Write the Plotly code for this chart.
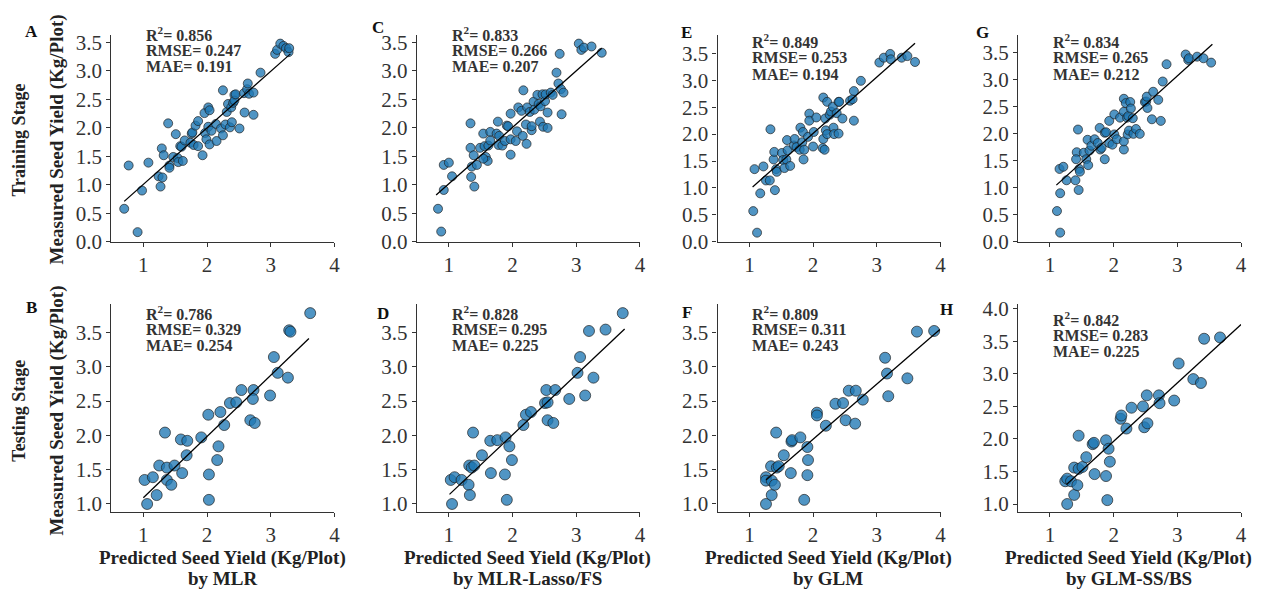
import plotly.graph_objects as go

# ---------------- data ----------------
# Training stage (measured vs predicted)
mlr_train_pred = [0.70,0.91,0.77,0.98,1.08,1.27,1.24,1.30,1.29,1.32,1.39,1.41,1.41,1.47,1.51,1.54,1.55,1.58,1.60,1.62,1.65,1.74,1.76,1.77,1.79,1.82,1.86,1.86,1.93,1.96,1.97,1.99,2.02,2.02,2.04,2.04,2.07,2.14,2.15,2.22,2.25,2.25,2.29,2.31,2.33,2.36,2.39,2.38,2.41,2.43,2.43,2.45,2.51,2.58,2.59,2.63,2.64,2.66,2.73,2.73,2.84,3.07,3.10,3.15,3.20,3.24,3.28,3.29]
mlr_train_meas = [0.58,0.17,1.34,0.90,1.39,0.97,1.15,1.13,1.64,1.52,2.08,1.34,1.30,1.49,1.89,1.47,1.40,1.68,1.67,1.42,1.78,1.74,1.90,1.92,1.70,2.04,1.68,2.12,1.52,2.26,1.91,1.80,2.02,2.36,2.31,1.71,1.95,2.07,1.77,1.99,2.66,1.87,2.06,2.28,2.42,2.01,2.10,2.36,2.44,2.58,2.48,2.59,1.99,2.61,2.27,2.68,2.78,2.60,2.62,2.23,2.97,3.30,3.37,3.48,3.44,3.40,3.33,3.40]

lasso_train_pred = [0.83,0.88,0.92,1.00,0.92,1.05,1.34,1.34,1.35,1.36,1.39,1.40,1.44,1.49,1.54,1.56,1.58,1.61,1.62,1.65,1.65,1.54,1.77,1.75,1.78,1.79,1.84,1.88,1.91,1.93,1.97,1.97,1.97,2.05,2.07,2.09,2.14,2.16,2.17,2.21,2.22,2.23,2.27,2.30,2.30,2.33,2.34,2.39,2.41,2.43,2.44,2.47,2.48,2.51,2.52,2.55,2.55,2.60,2.63,2.69,2.72,2.76,2.74,2.80,2.77,3.04,3.08,3.12,3.24,3.40]
lasso_train_meas = [0.58,0.18,1.35,1.39,0.91,1.15,2.08,1.65,1.14,1.32,1.52,0.97,1.35,1.65,1.90,1.68,1.49,1.42,1.69,1.93,1.78,1.46,2.11,1.90,1.70,1.86,1.69,1.77,2.04,2.03,2.25,1.80,1.53,1.77,1.94,2.36,2.30,1.86,2.66,2.06,1.72,2.36,2.28,1.96,2.03,2.46,2.32,2.58,2.42,2.11,2.38,2.59,2.02,2.47,2.59,2.27,2.00,2.62,2.58,2.97,2.78,2.68,3.30,2.62,2.24,3.48,3.37,3.41,3.43,3.32]

glm_train_pred = [1.06,1.12,1.08,1.17,1.22,1.26,1.32,1.33,1.38,1.39,1.40,1.42,1.43,1.51,1.53,1.55,1.58,1.59,1.60,1.64,1.70,1.71,1.74,1.80,1.79,1.83,1.84,1.85,1.86,1.92,1.94,1.94,2.00,2.01,2.05,2.15,2.16,2.16,2.18,2.19,2.20,2.22,2.22,2.26,2.28,2.31,2.32,2.33,2.40,2.40,2.41,2.37,2.46,2.58,2.62,2.64,2.64,2.75,3.04,3.11,3.21,3.22,3.39,3.48,3.60]
glm_train_meas = [0.57,0.17,1.35,0.90,1.40,1.14,1.14,2.09,1.53,1.67,0.96,1.35,1.30,1.65,1.52,1.37,1.53,1.89,1.70,1.41,1.79,1.91,1.76,2.12,1.71,1.85,2.04,1.53,1.71,1.95,2.38,2.25,1.77,2.04,2.31,1.74,1.91,2.68,1.71,2.29,2.07,2.00,2.60,2.36,2.42,2.51,2.12,2.00,2.01,2.60,2.60,2.39,2.29,2.62,2.65,2.80,2.25,2.99,3.33,3.42,3.49,3.39,3.42,3.45,3.34]

glmss_train_pred = [1.11,1.16,1.15,1.16,1.21,1.26,1.40,1.44,1.42,1.41,1.45,1.46,1.47,1.53,1.57,1.59,1.60,1.62,1.65,1.70,1.75,1.78,1.79,1.81,1.86,1.86,1.88,1.93,1.93,1.98,2.01,2.01,2.05,2.10,2.16,2.16,2.16,2.16,2.19,2.21,2.22,2.23,2.24,2.26,2.27,2.30,2.31,2.35,2.41,2.49,2.51,2.52,2.53,2.60,2.62,2.70,2.74,2.77,2.83,3.13,3.17,3.18,3.31,3.41,3.53]
glmss_train_meas = [0.57,0.17,1.35,0.90,1.39,1.14,1.14,2.08,1.66,1.53,0.96,1.35,1.30,1.65,1.53,1.89,1.42,1.69,1.78,1.90,1.83,2.11,1.71,1.74,2.02,1.53,2.03,2.24,1.83,1.80,2.36,1.99,1.90,2.30,2.65,2.41,1.71,1.86,2.57,2.30,1.99,2.33,2.06,2.59,2.47,2.29,2.00,2.09,2.00,2.59,2.60,2.69,2.48,2.27,2.78,2.63,2.24,2.97,3.29,3.47,3.37,3.40,3.43,3.40,3.32]

# Testing stage
mlr_test_pred = [1.02,1.06,1.15,1.21,1.25,1.34,1.37,1.37,1.44,1.49,1.59,1.61,1.69,1.68,1.91,2.02,2.03,2.03,2.16,2.18,2.21,2.27,2.36,2.46,2.54,2.68,2.73,2.72,2.75,2.99,3.05,3.11,3.27,3.29,3.31,3.62]
mlr_test_meas = [1.35,1.00,1.39,1.13,1.56,2.04,1.53,1.35,1.28,1.56,1.94,1.45,1.92,1.71,1.97,2.30,1.43,1.06,1.64,1.84,2.34,2.15,2.47,2.48,2.66,2.22,2.66,2.53,2.18,2.58,3.14,2.91,2.84,3.53,3.51,3.78]

lasso_test_pred = [1.03,1.05,1.09,1.20,1.32,1.31,1.33,1.36,1.40,1.38,1.52,1.66,1.65,1.76,1.88,1.89,1.91,1.95,1.99,2.17,2.21,2.29,2.51,2.55,2.53,2.55,2.67,2.64,2.89,3.02,3.06,3.14,3.20,3.27,3.46,3.73]
lasso_test_meas = [1.35,1.00,1.39,1.35,1.56,1.28,1.13,1.53,1.56,2.04,1.71,1.45,1.92,1.93,1.43,1.97,1.06,1.84,1.64,2.15,2.30,2.34,2.47,2.48,2.66,2.22,2.66,2.18,2.53,2.91,3.14,2.58,3.52,2.84,3.54,3.78]

glm_test_pred = [1.26,1.26,1.26,1.34,1.35,1.35,1.40,1.42,1.43,1.46,1.54,1.65,1.66,1.67,1.80,1.86,1.91,1.92,1.91,2.06,2.06,2.20,2.35,2.47,2.51,2.56,2.67,2.66,2.78,3.13,3.16,3.18,3.48,3.63,3.90]
glm_test_meas = [1.39,1.34,1.00,1.55,1.34,1.13,1.28,2.04,1.53,1.55,1.71,1.45,1.91,1.93,1.97,1.06,1.83,1.64,1.42,2.33,2.29,2.14,2.46,2.47,2.22,2.65,2.65,2.17,2.52,3.13,2.90,2.57,2.83,3.51,3.52]

glmss_test_pred = [1.24,1.27,1.27,1.38,1.38,1.33,1.43,1.45,1.45,1.51,1.57,1.67,1.69,1.70,1.88,1.88,1.90,1.92,1.94,2.11,2.12,2.20,2.28,2.46,2.48,2.52,2.53,2.71,2.72,2.95,3.02,3.25,3.37,3.42,3.67]
glmss_test_meas = [1.35,1.39,1.00,1.56,1.14,1.35,1.29,2.05,1.54,1.57,1.72,1.92,1.94,1.46,1.98,1.43,1.06,1.85,1.65,2.31,2.36,2.16,2.48,2.50,2.18,2.67,2.24,2.67,2.55,2.59,3.16,2.92,2.86,3.54,3.56]

# Fitted regression line end points (as drawn in the reference)
fit_A_x = [0.70, 3.31]; fit_A_y = [0.71, 3.30]
fit_C_x = [0.80, 3.40]; fit_C_y = [0.82, 3.40]
fit_E_x = [1.05, 3.60]; fit_E_y = [1.02, 3.69]
fit_G_x = [1.10, 3.55]; fit_G_y = [1.05, 3.66]
fit_B_x = [1.00, 3.60]; fit_B_y = [1.09, 3.41]
fit_D_x = [1.01, 3.76]; fit_D_y = [1.14, 3.55]
fit_F_x = [1.26, 3.99]; fit_F_y = [1.35, 3.54]
fit_H_x = [1.26, 4.00]; fit_H_y = [1.30, 3.76]

# Metrics
r2_vals   = ["0.856", "0.833", "0.849", "0.834", "0.786", "0.828", "0.809", "0.842"]
rmse_vals = ["0.247", "0.266", "0.253", "0.265", "0.329", "0.295", "0.311", "0.283"]
mae_vals  = ["0.191", "0.207", "0.194", "0.212", "0.254", "0.225", "0.243", "0.225"]
panel_letters = ["A", "C", "E", "G", "B", "D", "F", "H"]
model_names = ["by MLR", "by MLR-Lasso/FS", "by GLM", "by GLM-SS/BS"]
row_labels = ["Training Stage", "Testing Stage"]

# ---------------- layout helpers ----------------
W, H = 1261, 599
def px_x(p): return p / W
def px_y(p): return 1 - p / H

panels = [
    (mlr_train_pred, mlr_train_meas, fit_A_x, fit_A_y),
    (lasso_train_pred, lasso_train_meas, fit_C_x, fit_C_y),
    (glm_train_pred, glm_train_meas, fit_E_x, fit_E_y),
    (glmss_train_pred, glmss_train_meas, fit_G_x, fit_G_y),
    (mlr_test_pred, mlr_test_meas, fit_B_x, fit_B_y),
    (lasso_test_pred, lasso_test_meas, fit_D_x, fit_D_y),
    (glm_test_pred, glm_test_meas, fit_F_x, fit_F_y),
    (glmss_test_pred, glmss_test_meas, fit_H_x, fit_H_y),
]

col_left = [112, 419, 721, 1023]
col_w = 224
row_top = [29, 307]
row_bot = [242.5, 521.5]
y_ranges = [[0, 3.63], [0, 3.63], [0, 3.84], [0, 3.83],
            [0.884, 3.909], [0.884, 3.909], [0.884, 3.909], [0.878, 4.07]]

SERIF = "Liberation Serif"
AX_COLOR = "#333333"

fig = go.Figure()
layout = dict(
    width=W, height=H, margin=dict(l=0, r=0, t=0, b=0),
    paper_bgcolor="white", plot_bgcolor="white", showlegend=False,
    font=dict(family=SERIF, size=16, color="#222222"),
)

annotations = []
for i, (px_, py_, fx, fy) in enumerate(panels):
    k = i + 1
    row, col = divmod(i, 4)
    xa = "x" if k == 1 else f"x{k}"
    ya = "y" if k == 1 else f"y{k}"
    msize = 9 if row == 0 else 11
    fig.add_trace(go.Scatter(
        x=px_, y=py_, mode="markers", xaxis=xa, yaxis=ya,
        marker=dict(size=msize, color="rgba(31,119,180,0.78)",
                    line=dict(color="rgba(30,30,30,0.85)", width=0.8)),
        cliponaxis=False,
    ))
    fig.add_trace(go.Scatter(
        x=fx, y=fy, mode="lines", xaxis=xa, yaxis=ya,
        line=dict(color="black", width=1.3), cliponaxis=False,
    ))
    xkey = "xaxis" if k == 1 else f"xaxis{k}"
    ykey = "yaxis" if k == 1 else f"yaxis{k}"
    axis_common = dict(
        showline=True, linecolor=AX_COLOR, linewidth=1.4,
        ticks="outside", ticklen=4, tickwidth=1.2, tickcolor=AX_COLOR,
        showgrid=False, zeroline=False,
        tickfont=dict(family=SERIF, size=21, color=AX_COLOR),
    )
    layout[xkey] = dict(
        domain=[px_x(col_left[col]), px_x(col_left[col] + col_w)],
        anchor=ya, range=[0.5, 4.0], tickvals=[1, 2, 3, 4], **axis_common)
    layout[ykey] = dict(
        domain=[px_y(row_bot[row]), px_y(row_top[row])],
        anchor=xa, range=y_ranges[i], dtick=0.5, tick0=0, tickformat=".1f",
        **axis_common)

    # metrics text
    if row == 0:
        ys = [28.3, 44.5, 61] if col < 2 else [35, 52.5, 70]
    else:
        ys = [315.7, 332.7, 349.3] if col < 3 else [322.3, 339.3, 356]
    xs = [145, 451.7, 753.3, 1055.7][col]
    texts = [f"<b>R<sup>2</sup>= {r2_vals[i]}</b>", f"<b>RMSE= {rmse_vals[i]}</b>",
             f"<b>MAE= {mae_vals[i]}</b>"]
    for t, yy in zip(texts, ys):
        annotations.append(dict(
            text=t, x=px_x(xs), y=px_y(yy), xref="paper", yref="paper",
            xanchor="left", yanchor="middle", showarrow=False,
            font=dict(family=SERIF, size=16, color="#333333")))

# panel letters
letter_pos = {"A": (32, 25), "C": (380, 21), "E": (690, 26), "G": (987, 26),
              "B": (32, 310), "D": (385, 317), "F": (690, 315), "H": (951, 312)}
for L in panel_letters:
    lx, ly = letter_pos[L]
    annotations.append(dict(
        text=f"<b>{L}</b>", x=px_x(lx), y=px_y(ly), xref="paper", yref="paper",
        xanchor="center", yanchor="middle", showarrow=False,
        font=dict(family=SERIF, size=17, color="#111111")))

# y titles and row labels
for r, cy in enumerate([137, 417]):
    annotations.append(dict(
        text="<b>Measured Seed Yield (Kg/Plot)</b>", x=px_x(57), y=px_y(cy),
        xref="paper", yref="paper", xanchor="center", yanchor="middle",
        textangle=-90, showarrow=False,
        font=dict(family=SERIF, size=19, color="#222222")))
    annotations.append(dict(
        text=f"<b>{row_labels[r]}</b>", x=px_x(19), y=px_y(cy),
        xref="paper", yref="paper", xanchor="center", yanchor="middle",
        textangle=-90, showarrow=False,
        font=dict(family=SERIF, size=18, color="#222222")))

# x titles
for c, cx in enumerate([224, 530, 832, 1134]):
    annotations.append(dict(
        text="<b>Predicted Seed Yield (Kg/Plot)</b>", x=px_x(cx), y=px_y(569),
        xref="paper", yref="paper", xanchor="center", yanchor="middle",
        showarrow=False, font=dict(family=SERIF, size=19, color="#222222")))
    annotations.append(dict(
        text=f"<b>{model_names[c]}</b>", x=px_x(cx), y=px_y(590),
        xref="paper", yref="paper", xanchor="center", yanchor="middle",
        showarrow=False, font=dict(family=SERIF, size=19, color="#222222")))

layout["annotations"] = annotations
fig.update_layout(**layout)
fig.write_html("out.html")
